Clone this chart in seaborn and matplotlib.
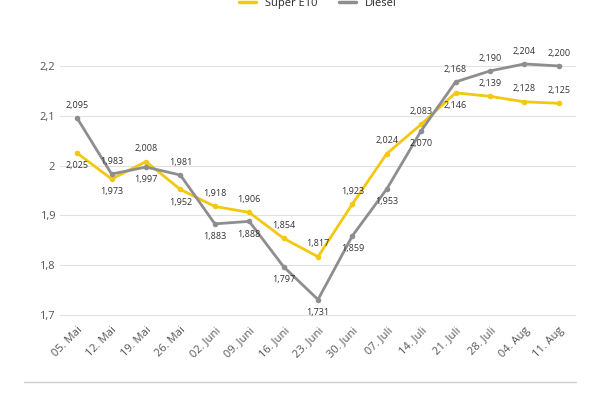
import matplotlib
matplotlib.use('Agg')
import matplotlib.pyplot as plt
import seaborn as sns
import pandas as pd

dates = ['05. Mai', '12. Mai', '19. Mai', '26. Mai', '02. Juni', '09. Juni', '16. Juni',
         '23. Juni', '30. Juni', '07. Juli', '14. Juli', '21. Juli', '28. Juli', '04. Aug', '11. Aug']
e10 = [2.025, 1.973, 2.008, 1.952, 1.918, 1.906, 1.854, 1.817, 1.923, 2.024, 2.083, 2.146, 2.139, 2.128, 2.125]
diesel = [2.095, 1.983, 1.997, 1.981, 1.883, 1.888, 1.797, 1.731, 1.859, 1.953, 2.070, 2.168, 2.190, 2.204, 2.200]
# +1 label above, -1 label below
e10_pos = [-1, -1, 1, -1, 1, 1, 1, 1, 1, 1, 1, -1, 1, 1, 1]
diesel_pos = [1, 1, -1, 1, -1, -1, -1, -1, -1, -1, -1, 1, 1, 1, 1]

yellow = '#f2c811'
grey = '#8e8e8e'

df = pd.DataFrame({'x': list(range(len(dates))) * 2,
                   'Preis': e10 + diesel,
                   'Sorte': ['Super E10'] * len(dates) + ['Diesel'] * len(dates)})

sns.set_style('white')
plt.rcParams['font.family'] = ['Open Sans', 'DejaVu Sans']
fig, ax = plt.subplots(figsize=(6, 4), dpi=100)
fig.subplots_adjust(left=0.1, right=0.96, top=0.87, bottom=0.2)

sns.lineplot(data=df, x='x', y='Preis', hue='Sorte', palette={'Super E10': yellow, 'Diesel': grey},
             marker='o', markersize=4, markeredgewidth=0, linewidth=2, ax=ax)

def fmt(v):
    return f'{v:.3f}'.replace('.', ',')

for vals, pos in ((e10, e10_pos), (diesel, diesel_pos)):
    for i, (v, p) in enumerate(zip(vals, pos)):
        ax.annotate(fmt(v), (i, v), xytext=(0, 6 * p), textcoords='offset points',
                    ha='center', va='bottom' if p > 0 else 'top', fontsize=6.5, color='#333333')

ax.set_xlim(-0.5, len(dates) - 0.5)
ax.set_ylim(1.69, 2.228)
ax.set_yticks([1.7, 1.8, 1.9, 2.0, 2.1, 2.2])
ax.set_yticklabels(['1,7', '1,8', '1,9', '2', '2,1', '2,2'], fontsize=8, color='#555555')
ax.set_xticks(range(len(dates)))
ax.set_xticklabels(dates, rotation=45, ha='right', rotation_mode='anchor', fontsize=8, color='#555555')
ax.tick_params(length=0)
ax.yaxis.grid(True, color='#e2e2e2', linewidth=0.8)
ax.set_xlabel('')
ax.set_ylabel('')
for s in ax.spines.values():
    s.set_visible(False)

leg = ax.legend(loc='upper center', bbox_to_anchor=(0.5, 1.24), ncol=2, frameon=False,
                fontsize=8, handlelength=1.5)
for line in leg.get_lines():
    line.set_marker('')
    line.set_linewidth(2.5)

fig.add_artist(plt.Line2D([0.04, 0.96], [0.045, 0.045], color='#cccccc', linewidth=1))

fig.savefig('out.png', dpi=100)
